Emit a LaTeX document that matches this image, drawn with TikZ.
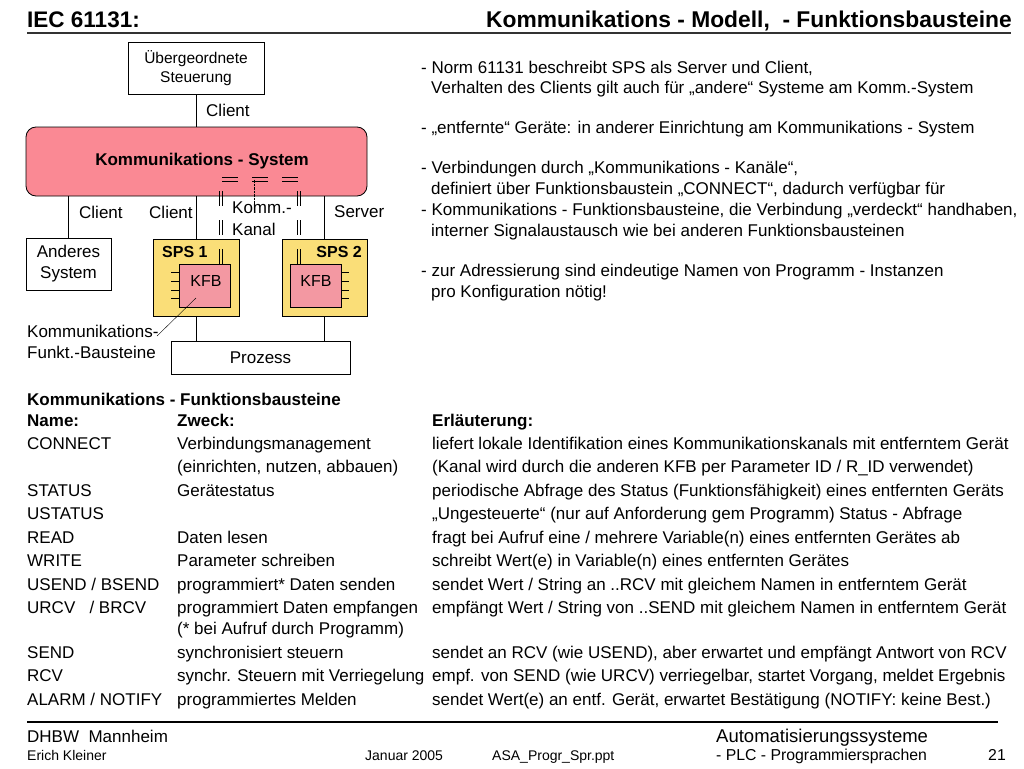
\documentclass[tikz,border=0pt]{standalone}
\usepackage{fontspec}
\setmainfont{Liberation Sans}
\definecolor{kspink}{RGB}{250,137,148}
\definecolor{kfbpink}{RGB}{243,152,162}
\definecolor{spsyellow}{RGB}{250,222,120}
\begin{document}
\begin{tikzpicture}[x=1pt,y=-1pt,
  txt/.style={anchor=base west,inner sep=0pt,font=\fontsize{17}{20}\selectfont},
  btxt/.style={txt,font=\fontsize{17}{20}\selectfont\bfseries},
  dlab/.style={inner sep=0pt,font=\fontsize{17}{20}\selectfont},
  box/.style={draw,line width=0.8pt,inner sep=0pt},
  pin/.style={line width=0.8pt},
  conn/.style={line width=0.8pt},
  chan/.style={line width=0.8pt},
  foot/.style={anchor=base west,inner sep=0pt,font=\fontsize{14}{16}\selectfont}]
\useasboundingbox[fill=white] (0,0) rectangle (1024,768);

% header
\node[anchor=base west,inner sep=0pt,font=\fontsize{22.5}{26}\selectfont\bfseries] (hl) at (27,28) {IEC 61131:};
\node[anchor=base east,inner sep=0pt,font=\fontsize{22.8}{26}\selectfont\bfseries] (hr) at (1012,28) {Kommunikations - Modell,\ \ - Funktionsbausteine};
\draw[line width=1.3pt,black!80] (27,33) -- (1011,33);

% diagram boxes
\node[box,minimum width=136pt,minimum height=52pt,align=center,font=\fontsize{15.5}{19}\selectfont] (ueber) at (196,68) {Übergeordnete\\Steuerung};
\node[box,fill=kspink,rounded corners=10pt,minimum width=341pt,minimum height=69pt] (ks) at (196.5,161.5) {};
\node[inner sep=0pt,font=\fontsize{17}{20}\selectfont\bfseries] (kst) at (202,161) {Kommunikations - System};
\node[box,minimum width=85pt,minimum height=52pt,align=center,font=\fontsize{17}{21}\selectfont] (anderes) at (68.5,264) {Anderes\\System};
\node[box,fill=spsyellow,minimum width=86pt,minimum height=77pt] (sps1) at (196,277.5) {};
\node[box,fill=spsyellow,minimum width=85pt,minimum height=77pt] (sps2) at (324.5,277.5) {};
\node[box,fill=kfbpink,minimum width=51pt,minimum height=43pt] (kfb1) at (204.5,285.5) {};
\node[box,fill=kfbpink,minimum width=51pt,minimum height=43pt] (kfb2) at (315.5,285.5) {};
\node[inner sep=0pt,font=\fontsize{16}{19}\selectfont] (kfb1t) at (206,281) {KFB};
\node[inner sep=0pt,font=\fontsize{16}{19}\selectfont] (kfb2t) at (316,281) {KFB};
\node[inner sep=0pt,anchor=west,font=\fontsize{16}{19}\selectfont\bfseries] (sps1t) at (162,252) {SPS 1};
\node[inner sep=0pt,anchor=east,font=\fontsize{16}{19}\selectfont\bfseries] (sps2t) at (362,252) {SPS 2};
\node[box,minimum width=179pt,minimum height=33pt,font=\fontsize{17}{20}\selectfont] (prozess) at (260.5,357.5) {Prozess};

% pins
\foreach \yy in {272,281,290,298}{
  \draw[pin] (kfb1.west |- 0,\yy) -- ++(-8,0);
  \draw[pin] (kfb2.east |- 0,\yy) -- ++(8,0);
}

% connectors
\draw[conn] (ueber.south) -- (ueber.south |- ks.north);
\draw[conn] (anderes.north) -- (anderes.north |- ks.south);
\draw[conn] (sps1.north) -- (sps1.north |- ks.south);
\draw[conn] (sps2.north) -- (sps2.north |- ks.south);
\draw[conn] (sps1.south) -- (sps1.south |- prozess.north);
\draw[conn] (sps2.south) -- (sps2.south |- prozess.north);

% channel (double dashed lines)
\coordinate (cl) at (221,189);
\coordinate (cr) at (299,189);
\coordinate (hl1) at (222,179.5);
\coordinate (hr1) at (298,179.5);
\coordinate (clb) at (kfb1.north -| cl);
\coordinate (crb) at (kfb2.north -| cr);
\foreach \s in {-1.5,1.5}{
  \draw[chan,dash pattern=on 15pt off 14pt] ([xshift=\s pt]clb) -- ([xshift=\s pt]cl);
  \draw[chan,dash pattern=on 15pt off 14pt] ([xshift=\s pt]crb) -- ([xshift=\s pt]cr);
}
\foreach \s in {-2.3,2.3}{
  \draw[chan,dash pattern=on 16pt off 14pt] ([yshift=\s pt]hl1) -- ([yshift=\s pt]hr1);
}
\coordinate (dp) at (254,212);
\draw[line width=0.4pt,densely dotted] (dp |- hl1) -- (dp);

% diagram labels
\node[dlab,anchor=west] (cl1) at (206,110) {Client};
\node[dlab,anchor=west] (cl2) at (79,212) {Client};
\node[dlab,anchor=west] (cl3) at (149,212) {Client};
\node[dlab,anchor=west] (srv) at (334,212) {Server};
\node[dlab,anchor=west] (kk1) at (232,208) {Komm.-};
\node[dlab,anchor=west] (kk2) at (232,229) {Kanal};
\node[dlab,anchor=west] (kfbl1) at (27,331) {Kommunikations-};
\node[dlab,anchor=west] (kfbl2) at (27,352) {Funkt.-Bausteine};
\coordinate (kp) at (196,298);
\draw[line width=0.4pt] (157,336) -- (kp);

% right bullets
\node[txt] (b1) at (421,73) {- Norm 61131 beschreibt SPS als Server und Client,};
\node[txt] (b1b) at (431,93) {Verhalten des Clients gilt auch für „andere“ Systeme am Komm.-System};
\node[txt] (b2) at (421,133) {- „entfernte“ Geräte: in anderer Einrichtung am Kommunikations - System};
\node[txt] (b3) at (421,173) {- Verbindungen durch „Kommunikations - Kanäle“,};
\node[txt] (b3b) at (431,194) {definiert über Funktionsbaustein „CONNECT“, dadurch verfügbar für};
\node[txt] (b4) at (421,215) {- Kommunikations - Funktionsbausteine, die Verbindung „verdeckt“ handhaben,};
\node[txt] (b4b) at (431,236) {interner Signalaustausch wie bei anderen Funktionsbausteinen};
\node[txt] (b5) at (421,276) {- zur Adressierung sind eindeutige Namen von Programm - Instanzen};
\node[txt] (b5b) at (431,297) {pro Konfiguration nötig!};

% table
\node[btxt] (th) at (27,405) {Kommunikations - Funktionsbausteine};
\node[btxt] (h1) at (27,426) {Name:};
\node[btxt] (h2) at (177,426) {Zweck:};
\node[btxt] (h3) at (432,426) {Erläuterung:};
\node[txt] (r1a) at (27,449) {CONNECT};
\node[txt] (r1b) at (177,449) {Verbindungsmanagement};
\node[txt] (r1c) at (432,449) {liefert lokale Identifikation eines Kommunikationskanals mit entferntem Gerät};
\node[txt] (r1d) at (177,472) {(einrichten, nutzen, abbauen)};
\node[txt] (r1e) at (432,472) {(Kanal wird durch die anderen KFB per Parameter ID / R\_ID verwendet)};
\node[txt] (r2a) at (27,496) {STATUS};
\node[txt] (r2b) at (177,496) {Gerätestatus};
\node[txt] (r2c) at (432,496) {periodische Abfrage des Status (Funktionsfähigkeit) eines entfernten Geräts};
\node[txt] (r3a) at (27,519) {USTATUS};
\node[txt] (r3c) at (432,519) {„Ungesteuerte“ (nur auf Anforderung gem Programm) Status - Abfrage};
\node[txt] (r4a) at (27,543) {READ};
\node[txt] (r4b) at (177,543) {Daten lesen};
\node[txt] (r4c) at (432,543) {fragt bei Aufruf eine / mehrere Variable(n) eines entfernten Gerätes ab};
\node[txt] (r5a) at (27,566) {WRITE};
\node[txt] (r5b) at (177,566) {Parameter schreiben};
\node[txt] (r5c) at (432,566) {schreibt Wert(e) in Variable(n) eines entfernten Gerätes};
\node[txt] (r6a) at (27,590) {USEND / BSEND};
\node[txt] (r6b) at (177,590) {programmiert* Daten senden};
\node[txt] (r6c) at (432,590) {sendet Wert / String an ..RCV mit gleichem Namen in entferntem Gerät};
\node[txt] (r7a) at (27,613) {URCV\ \ \ / BRCV};
\node[txt] (r7b) at (177,613) {programmiert Daten empfangen};
\node[txt] (r7c) at (432,613) {empfängt Wert / String von ..SEND mit gleichem Namen in entferntem Gerät};
\node[txt] (r7d) at (177,634) {(* bei Aufruf durch Programm)};
\node[txt] (r8a) at (27,658) {SEND};
\node[txt] (r8b) at (177,658) {synchronisiert steuern};
\node[txt] (r8c) at (432,658) {sendet an RCV (wie USEND), aber erwartet und empfängt Antwort von RCV};
\node[txt] (r9a) at (27,681) {RCV};
\node[txt] (r9b) at (177,681) {synchr. Steuern mit Verriegelung};
\node[txt] (r9c) at (432,681) {empf. von SEND (wie URCV) verriegelbar, startet Vorgang, meldet Ergebnis};
\node[txt] (r10a) at (27,705) {ALARM / NOTIFY};
\node[txt] (r10b) at (177,705) {programmiertes Melden};
\node[txt] (r10c) at (432,705) {sendet Wert(e) an entf. Gerät, erwartet Bestätigung (NOTIFY: keine Best.)};

% footer
\draw[line width=1.6pt] (27,722) -- (998,722);
\node[anchor=base west,inner sep=0pt,font=\fontsize{17}{20}\selectfont] (f1) at (27,742) {DHBW\ \ Mannheim};
\node[anchor=base west,inner sep=0pt,font=\fontsize{18.5}{21}\selectfont] (f2) at (716,742) {Automatisierungssysteme};
\node[foot] (f3) at (27,760) {Erich Kleiner};
\node[foot] (f4) at (365,760) {Januar 2005};
\node[foot] (f5) at (492,760) {ASA\_Progr\_Spr.ppt};
\node[foot,font=\fontsize{15.8}{17}\selectfont] (f6) at (716,760) {- PLC - Programmiersprachen};
\node[foot,font=\fontsize{15.8}{17}\selectfont] (f7) at (988,760) {21};
\end{tikzpicture}
\end{document}
